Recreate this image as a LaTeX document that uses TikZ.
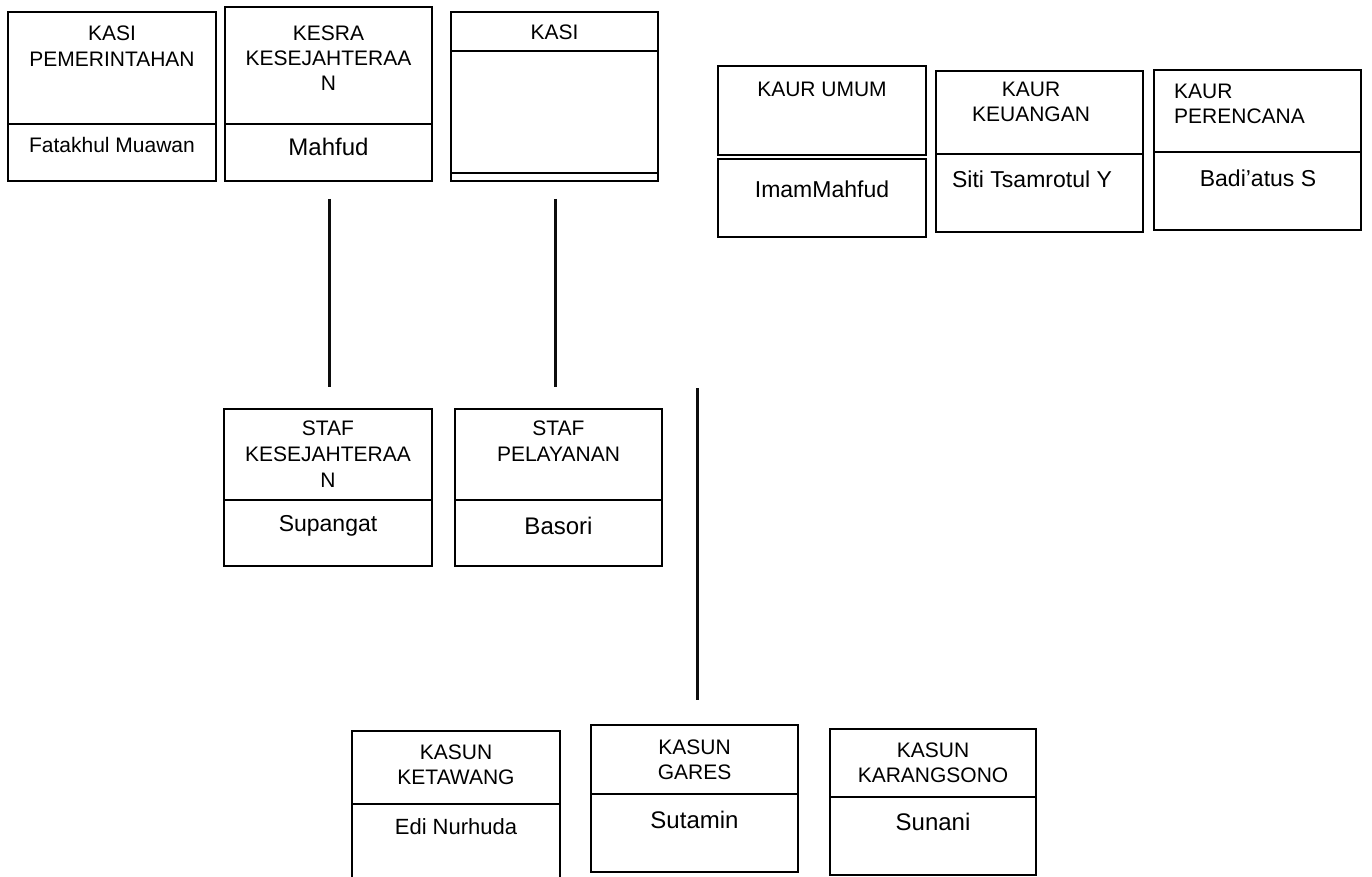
\documentclass[tikz,border=0pt]{standalone}
\usepackage{fontspec}
\setmainfont{Liberation Sans}
\tikzset{
  boxpart/.style={draw=black, line width=2pt, fill=none},
  hd/.style={anchor=base, inner sep=0pt, font=\fontsize{21}{26}\selectfont},
  hdl/.style={anchor=base west, inner sep=0pt, font=\fontsize{21}{26}\selectfont},
  nm/.style={anchor=base, inner sep=0pt, font=\fontsize{#1}{26}\selectfont},
  nm/.default=23,
  link/.style={draw=black!95, line width=3pt}
}
\begin{document}
\begin{tikzpicture}[x=1pt,y=-1pt]
\useasboundingbox[fill=white] (0,0) rectangle (1372,877);

% Box 1: KASI PEMERINTAHAN
\draw[boxpart] (8,12) rectangle (216,181);
\draw[boxpart] (8,124) -- (216,124);
\node[hd] (t1a) at (112,41) {KASI};
\node[hd] (t1b) at (112,67) {PEMERINTAHAN};
\node[nm=21] (n1) at (112,153) {Fatakhul Muawan};

% Box 2: KESRA
\draw[boxpart] (225,7) rectangle (432,181);
\draw[boxpart] (225,124) -- (432,124);
\node[hd] (t2a) at (328.5,41) {KESRA};
\node[hd] (t2b) at (328.5,66) {KESEJAHTERAA};
\node[hd] (t2c) at (328.5,91) {N};
\node[nm=24] (n2) at (328.5,156) {Mahfud};

% Box 3: KASI
\draw[boxpart] (451,12) rectangle (658,181);
\draw[boxpart] (451,51) -- (658,51);
\draw[boxpart] (451,173) -- (658,173);
\node[hd] (t3a) at (554.5,40) {KASI};

% Box 4: KAUR UMUM
\draw[boxpart] (718,66) rectangle (926,155);
\draw[boxpart] (718,159) rectangle (926,237);
\node[hd] (t4a) at (822,97) {KAUR UMUM};
\node[nm=23] (n4) at (822,198) {ImamMahfud};

% Box 5: KAUR KEUANGAN
\draw[boxpart] (936,71) rectangle (1143,232);
\draw[boxpart] (936,154) -- (1143,154);
\node[hd] (t5a) at (1031,97) {KAUR};
\node[hd] (t5b) at (1031,122) {KEUANGAN};
\node[nm=23] (n5) at (1032,188) {Siti Tsamrotul Y};

% Box 6: KAUR PERENCANA
\draw[boxpart] (1154,70) rectangle (1361,230);
\draw[boxpart] (1154,152) -- (1361,152);
\node[hdl] (t6a) at (1174,99) {KAUR};
\node[hdl] (t6b) at (1174,124) {PERENCANA};
\node[nm=23] (n6) at (1258,187) {Badi’atus S};

% Box 7: STAF KESEJAHTERAAN
\draw[boxpart] (224,409) rectangle (432,566);
\draw[boxpart] (224,500) -- (432,500);
\node[hd] (t7a) at (328,435) {STAF};
\node[hd] (t7b) at (328,461) {KESEJAHTERAA};
\node[hd] (t7c) at (328,487) {N};
\node[nm=23] (n7) at (328,531) {Supangat};

% Box 8: STAF PELAYANAN
\draw[boxpart] (455,409) rectangle (662,566);
\draw[boxpart] (455,500) -- (662,500);
\node[hd] (t8a) at (558.5,435) {STAF};
\node[hd] (t8b) at (558.5,461) {PELAYANAN};
\node[nm=24] (n8) at (558.5,534) {Basori};

% Box 9: KASUN KETAWANG
\draw[boxpart] (352,890) -- (352,731) -- (560,731) -- (560,890);
\draw[boxpart] (352,804) -- (560,804);
\node[hd] (t9a) at (456,759) {KASUN};
\node[hd] (t9b) at (456,784) {KETAWANG};
\node[nm=22] (n9) at (456,834) {Edi Nurhuda};

% Box 10: KASUN GARES
\draw[boxpart] (591,725) rectangle (798,872);
\draw[boxpart] (591,794) -- (798,794);
\node[hd] (t10a) at (694.5,754) {KASUN};
\node[hd] (t10b) at (694.5,779) {GARES};
\node[nm=24] (n10) at (694.5,828) {Sutamin};

% Box 11: KASUN KARANGSONO
\draw[boxpart] (830,729) rectangle (1036,875);
\draw[boxpart] (830,797) -- (1036,797);
\node[hd] (t11a) at (933,757) {KASUN};
\node[hd] (t11b) at (933,782) {KARANGSONO};
\node[nm=24] (n11) at (933,830) {Sunani};

% Free-standing vertical lines
\coordinate (l1a) at (329,199);
\coordinate (l1b) at (329,387);
\coordinate (l2a) at (555.5,199);
\coordinate (l2b) at (555.5,387);
\coordinate (l3a) at (697,388);
\coordinate (l3b) at (697,700);
\draw[link] (l1a) -- (l1b);
\draw[link] (l2a) -- (l2b);
\draw[link] (l3a) -- (l3b);
\end{tikzpicture}
\end{document}
